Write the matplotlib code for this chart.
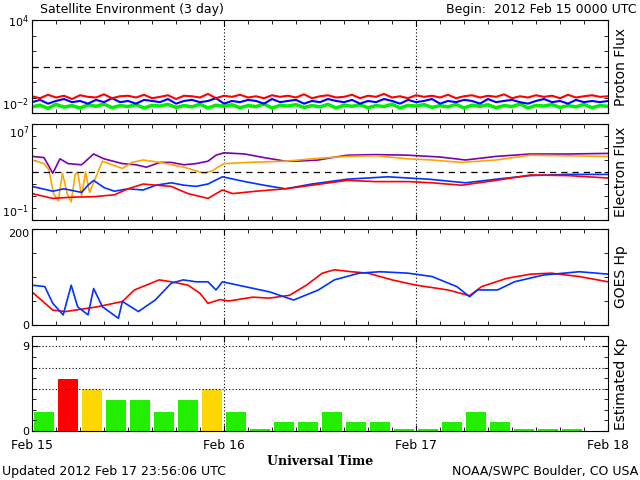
import matplotlib
matplotlib.use("Agg")
import matplotlib.pyplot as plt
import numpy as np
from matplotlib.ticker import MultipleLocator, FixedLocator, NullFormatter

# ---- data (hours since 2012 Feb 15 00 UTC) ----
proton_hours = list(range(0, 73))
proton_red = [0.12,0.09,0.15,0.10,0.13,0.08,0.14,0.11,0.10,0.16,0.09,0.12,0.13,0.10,0.15,0.09,0.11,0.14,0.08,0.13,
              0.12,0.10,0.17,0.09,0.13,0.11,0.15,0.10,0.12,0.09,0.14,0.11,0.13,0.10,0.16,0.09,0.12,0.14,0.10,0.11,
              0.15,0.09,0.13,0.11,0.17,0.10,0.12,0.09,0.14,0.11,0.13,0.10,0.15,0.09,0.12,0.14,0.10,0.13,0.11,0.16,
              0.09,0.12,0.10,0.14,0.11,0.13,0.09,0.15,0.10,0.12,0.14,0.11,0.12]
proton_blue = [0.05,0.07,0.04,0.06,0.08,0.05,0.06,0.04,0.07,0.05,0.09,0.05,0.06,0.04,0.07,0.06,0.05,0.08,0.04,0.06,
               0.07,0.05,0.06,0.09,0.04,0.06,0.05,0.07,0.06,0.04,0.08,0.05,0.06,0.07,0.04,0.06,0.05,0.08,0.06,0.05,
               0.07,0.04,0.06,0.05,0.08,0.06,0.04,0.07,0.05,0.06,0.08,0.04,0.06,0.05,0.07,0.06,0.04,0.08,0.05,0.06,
               0.07,0.05,0.04,0.06,0.08,0.05,0.06,0.04,0.07,0.05,0.06,0.05,0.06]
proton_green = [0.025,0.032,0.020,0.036,0.024,0.030,0.021,0.034,0.027,0.038,0.022,0.030,0.026,0.035,0.021,0.031,0.028,0.036,
                0.023,0.030,0.025,0.037,0.021,0.032,0.027,0.034,0.022,0.030,0.026,0.038,0.021,0.031,0.028,0.035,0.023,0.030,
                0.025,0.036,0.021,0.032,0.027,0.034,0.022,0.030,0.026,0.037,0.021,0.031,0.028,0.035,0.023,0.030,0.025,0.036,
                0.021,0.032,0.027,0.034,0.022,0.030,0.026,0.038,0.021,0.031,0.028,0.035,0.023,0.030,0.025,0.036,0.022,0.030,0.027]

e_purple_h = [0,1.5,2.6,3.5,4.5,6.2,7.7,9,11.3,13,14.3,16,17.4,19,20.5,22,23,24,26.6,29,31.7,33,35.8,37.5,39.4,43,47,51,54.2,58,62.3,67,72]
e_purple = [4.3,4.2,2.9,4.1,3.7,3.6,4.5,4.1,3.7,3.6,3.4,3.8,3.8,3.6,3.7,3.9,4.4,4.6,4.5,4.2,3.9,3.9,4.0,4.2,4.4,4.45,4.4,4.25,4.0,4.3,4.5,4.5,4.55]
e_orange_h = [0,1.5,2.1,2.7,3.3,3.8,4.4,4.9,5.4,5.7,6.2,6.7,7.2,8.8,10,11.3,12.5,13.9,16,19,20.5,21.5,22.5,24,27,31.7,35,39.4,43,47,50,53.7,58,62.3,67,72]
e_orange = [4.0,3.7,3.2,1.2,0.6,2.9,1.2,0.5,2.8,3.0,1.0,3.0,1.3,3.9,3.6,3.3,3.8,4.0,3.8,3.4,3.1,2.9,3.1,3.7,3.8,3.9,4.1,4.3,4.35,4.1,4.0,3.8,4.0,4.4,4.35,4.3]
e_blue_h = [0,2.6,4,6.2,7,7.7,9,10.3,12,13.9,15.5,17.4,19,20.5,22,23.8,26.6,29,31.7,35,39.4,44.5,47,49.6,54.2,58,62.3,67,72]
e_blue = [1.8,1.4,1.6,1.3,1.9,2.3,1.7,1.4,1.6,1.5,1.9,2.1,1.9,1.8,2.0,2.6,2.2,1.9,1.6,2.0,2.4,2.6,2.5,2.4,2.1,2.4,2.7,2.8,2.8]
e_red_h = [0,2.6,5,7.7,10.3,12,13.9,15.5,17.4,19.5,22,23.8,25.1,28,31.7,35,39.4,43,47,50,53.7,58,62.3,67,72]
e_red = [1.2,0.8,0.9,0.94,1.1,1.6,2.0,1.9,1.8,1.2,0.8,1.5,1.2,1.4,1.6,1.9,2.3,2.2,2.2,2.1,1.9,2.3,2.75,2.7,2.5]

hp_red_h = [0,2.6,4.2,8.2,11.3,12.8,15.9,17.4,19.5,21,22,23.5,24.6,27.6,29.7,32.2,34.3,36.3,37.8,39.9,42,45,48,52,54.7,56.2,59.3,62.3,64.9,68.4,72]
hp_red = [69,31,28,38,49,73,94,90,83,66,45,53,50,58,56,62,83,108,115,111,108,94,83,73,61,80,97,106,108,101,90]
hp_blue_h = [0,1.6,2.6,3.9,4.9,5.7,7,7.7,8.8,10.8,11.3,13.3,15.4,17.4,18.9,20.5,22,23,23.8,26.6,29.7,32.7,35.8,37.8,40.9,43.5,47,50,53.1,54.7,55.7,58.2,60.3,63.9,68.4,72]
hp_blue = [83,80,45,21,83,38,21,76,38,14,49,28,52,87,94,90,90,73,90,80,69,52,73,94,108,111,108,101,80,59,73,73,90,104,111,106]

kp_hours = np.arange(1.5, 72, 3)
kp = [2,5.5,4.5,3.3,3.3,2,3.3,4.5,2,0.2,1,1,2,1,1,0.2,0.2,1,2,1,0.2,0.2,0.2,0]
kp_colors = ['#22ee00','#ff0000','#ffd700','#22ee00','#22ee00','#22ee00','#22ee00','#ffd700'] + ['#22ee00']*16

fs = 9
fig = plt.figure(figsize=(6.4, 4.8), dpi=100)
W = 576/640; L = 32/640
ax1 = fig.add_axes([L, 1-113/480, W, 93/480])
ax2 = fig.add_axes([L, 1-220/480, W, 96/480])
ax3 = fig.add_axes([L, 1-325/480, W, 96/480])
ax4 = fig.add_axes([L, 1-431/480, W, 95/480])

for ax in (ax1, ax2, ax3, ax4):
    ax.set_xlim(0, 72)
    ax.xaxis.set_major_locator(MultipleLocator(24))
    ax.xaxis.set_minor_locator(MultipleLocator(3))
    ax.tick_params(which='both', direction='in', top=True, right=True, labelsize=8, length=4, pad=2)
    ax.tick_params(which='minor', length=3)
    ax.xaxis.set_major_formatter(NullFormatter())
    for xv in (24, 48):
        ax.axvline(xv, color='black', ls=(0, (1, 2)), lw=0.8)
    ax.yaxis.set_label_position('right')

ax1.set_yscale('log'); ax1.set_ylim(1e-2, 1e4)
ax1.plot(proton_hours, proton_green, color='#00ee00', lw=2.5)
ax1.plot(proton_hours, proton_blue, color='#0000ff', lw=1.5)
ax1.plot(proton_hours, proton_red, color='#ff0000', lw=1.5)
ax1.axhline(10, color='black', ls=(0, (5, 4)), lw=0.9)
ax1.set_yticks([1e-2, 1e4]); ax1.set_yticklabels(['10$^{-2}$', '10$^{4}$'])
ax1.yaxis.set_minor_locator(FixedLocator([1e-1, 1, 10, 100, 1e3]))
ax1.yaxis.set_minor_formatter(NullFormatter())
ax1.set_ylabel('Proton Flux', fontsize=10)

ax2.set_yscale('log'); ax2.set_ylim(1e-1, 1e7)
ax2.plot(e_purple_h, 10**np.array(e_purple), color='#7b00b0', lw=1.2)
ax2.plot(e_orange_h, 10**np.array(e_orange), color='#ffa500', lw=1.2)
ax2.plot(e_blue_h, 10**np.array(e_blue), color='#0033ff', lw=1.2)
ax2.plot(e_red_h, 10**np.array(e_red), color='#ff0000', lw=1.2)
ax2.axhline(1e3, color='black', ls=(0, (5, 4)), lw=0.9)
ax2.set_yticks([1e-1, 1e7]); ax2.set_yticklabels(['10$^{-1}$', '10$^{7}$'])
ax2.yaxis.set_minor_locator(FixedLocator([1, 10, 100, 1e3, 1e4, 1e5, 1e6]))
ax2.yaxis.set_minor_formatter(NullFormatter())
ax2.set_ylabel('Electron Flux', fontsize=10)

ax3.set_ylim(0, 200)
ax3.plot(hp_red_h, hp_red, color='#ff0000', lw=1.2)
ax3.plot(hp_blue_h, hp_blue, color='#0033ff', lw=1.2)
ax3.set_yticks([0, 200])
ax3.yaxis.set_minor_locator(MultipleLocator(50))
ax3.set_ylabel('GOES Hp', fontsize=10)

ax4.set_ylim(0, 10.1)
ax4.bar(kp_hours, kp, width=2.5, color=kp_colors)
for yv in (9, 6.75, 4.5):
    ax4.axhline(yv, color='black', ls=(0, (1, 2)), lw=0.8)
ax4.set_yticks([0, 9])
ax4.yaxis.set_minor_locator(MultipleLocator(1.125))
ax4.set_ylabel('Estimated Kp', fontsize=10)
ax4.set_xticks([0, 24, 48, 72])
ax4.set_xticklabels(['Feb 15', 'Feb 16', 'Feb 17', 'Feb 18'], fontsize=fs)
ax4.tick_params(axis='x', pad=6)
ax4.set_xlabel('Universal Time', fontsize=9, fontweight='bold', family='DejaVu Serif', labelpad=2)

# avoid overlapping stacked tick labels between panels
for ax in (ax2, ax3):
    ax.get_yticklabels()[-1].set_va('top')
for ax in (ax1, ax2):
    ax.get_yticklabels()[0].set_va('bottom')

fig.text(40/640, 1-9/480, 'Satellite Environment (3 day)', fontsize=9, va='center')
fig.text(636/640, 1-9/480, 'Begin:  2012 Feb 15 0000 UTC', fontsize=9, va='center', ha='right')
fig.text(2/640, 1-471/480, 'Updated 2012 Feb 17 23:56:06 UTC', fontsize=9, va='center')
fig.text(638/640, 1-471/480, 'NOAA/SWPC Boulder, CO USA', fontsize=9, va='center', ha='right')

fig.savefig('out.png', dpi=100)
